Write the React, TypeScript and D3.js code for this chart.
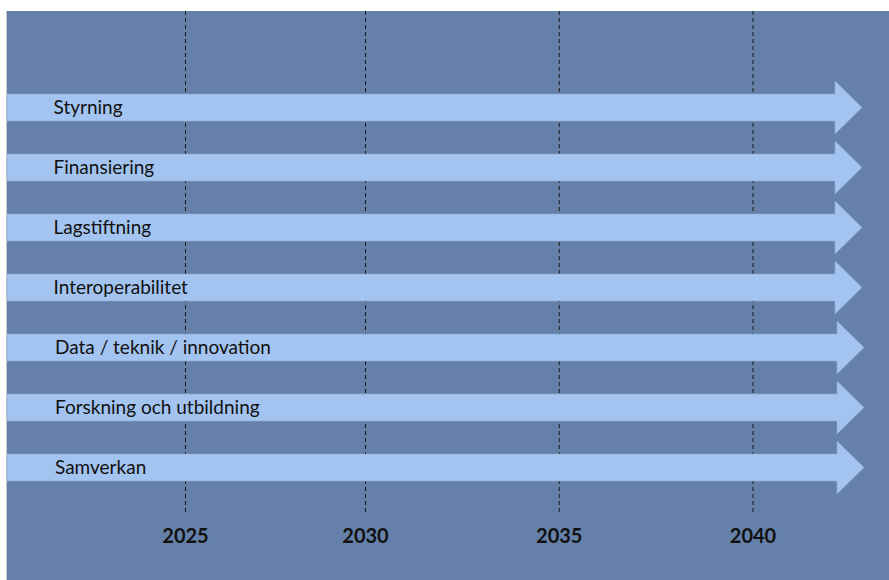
import React from "react";
import * as d3 from "d3";

const themes = [
  "Styrning",
  "Finansiering",
  "Lagstiftning",
  "Interoperabilitet",
  "Data / teknik / innovation",
  "Forskning och utbildning",
  "Samverkan",
];
const years = [2025, 2030, 2035, 2040];
const tipExtra = [0, 0, 0, 0, 2, 2, 2];

const W = 889;
const H = 580;

export default function App() {
  const x = d3.scaleLinear().domain([2025, 2030, 2040]).range([185.5, 365.5, 753]);
  const y = d3.scalePoint<string>().domain(themes).range([107.5, 467.5]);
  const bodyH = 27;
  const headH = 53;
  const left = 7;
  const headX = 835;
  const tipX = 862;

  const arrowPath = (cy: number, extra: number) => {
    const p = d3.path();
    p.moveTo(left, cy - bodyH / 2);
    p.lineTo(headX + extra, cy - bodyH / 2);
    p.lineTo(headX + extra, cy - headH / 2);
    p.lineTo(tipX + extra, cy);
    p.lineTo(headX + extra, cy + headH / 2);
    p.lineTo(headX + extra, cy + bodyH / 2);
    p.lineTo(left, cy + bodyH / 2);
    p.closePath();
    return p.toString();
  };

  return (
    <svg
      width={W}
      height={H}
      style={{ position: "absolute", left: 0, top: 0 }}
      fontFamily="Lato, 'Open Sans', sans-serif"
    >
      <rect x={0} y={0} width={W} height={H} fill="#ffffff" />
      <rect x={left} y={11} width={W - left} height={H - 11} fill="#6581AA" />
      <line x1={6.5} x2={6.5} y1={11} y2={H} stroke="#c8c8c8" strokeWidth={1} />
      {years.map((yr) => (
        <line
          key={yr}
          x1={x(yr)}
          x2={x(yr)}
          y1={11}
          y2={513}
          stroke="#1a1a1a"
          strokeWidth={1}
          strokeDasharray="4,3"
        />
      ))}
      {themes.map((t, i) => (
        <g key={t}>
          <path
            d={arrowPath(y(t)!, tipExtra[i])}
            fill="#A3C4F0"
            stroke="#8eabd6"
            strokeWidth={0.6}
          />
          <text x={i >= 4 ? 55 : 53.5} y={y(t)! + 6} fontSize={19} fill="#111">
            {t}
          </text>
        </g>
      ))}
      {years.map((yr) => (
        <text
          key={yr}
          x={x(yr)}
          y={543}
          textAnchor="middle"
          fontSize={20}
          fontWeight={700}
          fill="#111"
        >
          {yr}
        </text>
      ))}
    </svg>
  );
}
